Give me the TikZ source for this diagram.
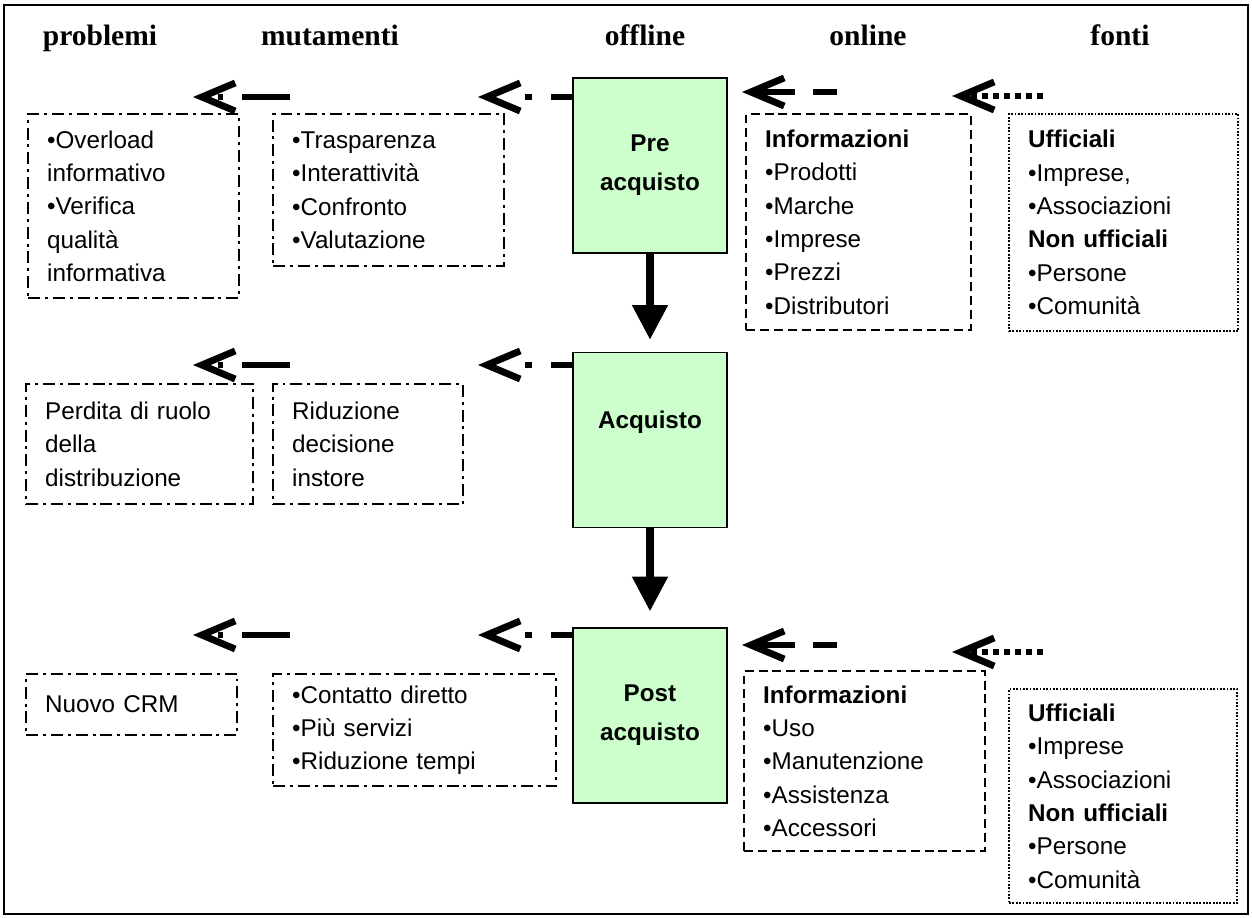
\documentclass[tikz,border=0pt]{standalone}
\usepackage{fontspec}
\setmainfont{Liberation Sans}
\newfontfamily\headfont{Liberation Serif}
\usetikzlibrary{positioning, arrows.meta}

\definecolor{stagegreen}{RGB}{204,255,204}

\begin{document}
\begin{tikzpicture}[
    x=0.02cm, y=-0.02cm,
    colhead/.style={anchor=base, font=\headfont\bfseries\fontsize{16.8pt}{20pt}\selectfont},
    stagebox/.style={draw, line width=0.8pt, fill=stagegreen, minimum width=3.08cm, minimum height=3.5cm, align=center, font=\bfseries\fontsize{13.8pt}{22pt}\selectfont},
    txtbox/.style 2 args={anchor=north west, align=left, inner xsep=0.38cm, inner ysep=0pt, text width=#1, minimum height=#2, font=\fontsize{13.8pt}{19pt}\selectfont, line width=1.3pt},
    probbox/.style={draw, dash pattern=on 6.8pt off 2.8pt on 1.7pt off 2.8pt},
    onlbox/.style={draw, dash pattern=on 5.1pt off 2.8pt},
    fontbox/.style={draw, dash pattern=on 1pt off 0.9pt},
    chevarrow/.style={line width=3.4pt, -{Straight Barb[length=19pt, width=16pt, line width=3.9pt]}},
    flowdown/.style={line width=4.5pt, -{Triangle[length=19.8pt, width=19.3pt]}},
]
\useasboundingbox (0,0) rectangle (1252,918);
\draw[line width=1.2pt] (4,5) rectangle (1248,914);

% Column titles
\node[colhead] (hprob) at (100,46) {problemi};
\node[colhead] (hmut) at (330,46) {mutamenti};
\node[colhead] (hoff) at (645,46) {offline};
\node[colhead] (honl) at (868,46) {online};
\node[colhead] (hfon) at (1120,46) {fonti};

% Offline stages
\node[stagebox] (pre) at (650,165.5) {Pre\\acquisto};
\node[stagebox, label={[font=\bfseries\fontsize{13.8pt}{22pt}\selectfont, yshift=10pt]center:Acquisto}] (acq) at (650,440) {};
\node[stagebox] (post) at (650,715.5) {Post\\acquisto};

\draw[flowdown, shorten >=6.8pt] (pre.south) -- (acq.north);
\draw[flowdown, shorten >=9pt] (acq.south) -- (post.north);

% Pre acquisto row
\node[txtbox={3.46cm}{3.68cm}, probbox] (prob1) at (27,113)
    {•Overload\\informativo\\•Verifica\\qualità\\informativa};
\node[txtbox={3.86cm}{3.04cm}, probbox] (mut1) at (272,113)
    {•Trasparenza\\•Interattività\\•Confronto\\•Valutazione};
\node[txtbox={3.74cm}{4.32cm}, onlbox] (onl1) at (745,113)
    {\textbf{Informazioni}\\•Prodotti\\•Marche\\•Imprese\\•Prezzi\\•Distributori};
\node[txtbox={3.82cm}{4.34cm}, fontbox] (fon1) at (1008,113)
    {\textbf{Ufficiali}\\•Imprese,\\•Associazioni\\\textbf{Non ufficiali}\\•Persone\\•Comunità};

% Acquisto row
\node[txtbox={3.78cm}{2.4cm}, probbox] (prob2) at (25,383)
    {Perdita di ruolo\\della\\distribuzione};
\node[txtbox={3.04cm}{2.4cm}, probbox] (mut2) at (272,383)
    {Riduzione\\decisione\\instore};

% Post acquisto row
\node[txtbox={3.46cm}{1.22cm}, probbox] (prob3) at (25,673) {Nuovo CRM};
\node[txtbox={4.9cm}{2.24cm}, probbox] (mut3) at (272,673)
    {•Contatto diretto\\•Più servizi\\•Riduzione tempi};
\node[txtbox={4.06cm}{3.6cm}, onlbox] (onl3) at (743,670)
    {\textbf{Informazioni}\\•Uso\\•Manutenzione\\•Assistenza\\•Accessori};
\node[txtbox={3.8cm}{4.28cm}, fontbox] (fon3) at (1008,688)
    {\textbf{Ufficiali}\\•Imprese\\•Associazioni\\\textbf{Non ufficiali}\\•Persone\\•Comunità};

% Arrow ends
\coordinate (prob1from) at (290,97);
\coordinate (prob1tip) at (193,97);
\coordinate (mut1tip) at (478,97);
\coordinate (onl1from) at (837,92);
\coordinate (onl1tip) at (742,92);
\coordinate (fon1from) at (1043,96);
\coordinate (fon1tip) at (952,96);

\coordinate (prob2from) at (290,365);
\coordinate (prob2tip) at (193,365);
\coordinate (mut2tip) at (478,365);

\coordinate (prob3from) at (290,635);
\coordinate (prob3tip) at (193,635);
\coordinate (mut3tip) at (478,635);
\coordinate (onl3from) at (837,645);
\coordinate (onl3tip) at (742,645);
\coordinate (fon3from) at (1043,652);
\coordinate (fon3tip) at (952,652);

% Arrows
\draw[chevarrow, dash pattern=on 27.2pt off 10.8pt on 2.8pt off 40pt] (prob1from) -- (prob1tip);
\draw[chevarrow, dash pattern=on 11.9pt off 11.3pt on 4pt off 40pt] (pre.west |- mut1tip) -- (mut1tip);
\draw[chevarrow, dash pattern=on 13.6pt off 10.2pt on 30pt off 5pt] (onl1from) -- (onl1tip);
\draw[chevarrow, dash pattern=on 3.4pt off 2.9pt] (fon1from) -- (fon1tip);

\draw[chevarrow, dash pattern=on 27.2pt off 10.8pt on 2.8pt off 40pt] (prob2from) -- (prob2tip);
\draw[chevarrow, dash pattern=on 11.9pt off 11.3pt on 4pt off 40pt] (acq.west |- mut2tip) -- (mut2tip);

\draw[chevarrow, dash pattern=on 27.2pt off 10.8pt on 2.8pt off 40pt] (prob3from) -- (prob3tip);
\draw[chevarrow, dash pattern=on 11.9pt off 11.3pt on 4pt off 40pt] (post.west |- mut3tip) -- (mut3tip);
\draw[chevarrow, dash pattern=on 13.6pt off 10.2pt on 30pt off 5pt] (onl3from) -- (onl3tip);
\draw[chevarrow, dash pattern=on 3.4pt off 2.9pt] (fon3from) -- (fon3tip);

\end{tikzpicture}
\end{document}
